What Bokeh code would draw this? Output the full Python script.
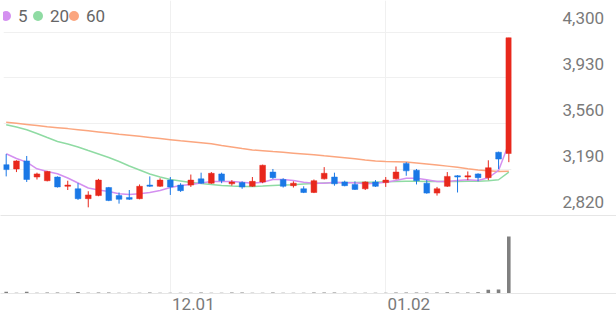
from bokeh.plotting import figure
from bokeh.models import Range1d, LinearAxis, FixedTicker, Legend, LegendItem, NumeralTickFormatter, Grid
from bokeh.embed import file_html
from bokeh.resources import INLINE

# ---- data ----
opens = [3230, 3195, 3260, 3130, 3100, 3130, 3055, 3035, 2955, 2980,
         3045, 2980, 2965, 2955, 3065, 3055, 3105, 3065, 3065, 3115,
         3080, 3155, 3075, 3085, 3055, 3090, 3170, 3110, 3060, 3035,
         3005, 3115, 3130, 3090, 3070, 3035, 3090, 3085, 3115, 3240,
         3185, 3080, 3000, 3055, 3140, 3130, 3155, 3125, 3330, 3320]
highs = [3315, 3265, 3300, 3165, 3180, 3135, 3100, 3080, 3015, 3115,
         3050, 3005, 3025, 3070, 3135, 3120, 3130, 3080, 3150, 3165,
         3170, 3165, 3105, 3095, 3130, 3230, 3195, 3120, 3095, 3055,
         3110, 3210, 3165, 3100, 3095, 3095, 3105, 3130, 3215, 3250,
         3195, 3105, 3050, 3170, 3145, 3175, 3160, 3265, 3335, 4255]
lows = [3135, 3170, 3090, 3110, 3095, 3045, 3025, 2945, 2885, 2975,
        2935, 2915, 2945, 2950, 3050, 3050, 2985, 3010, 3050, 3075,
        3075, 3080, 3060, 3035, 3050, 3080, 3115, 3045, 3045, 3000,
        3000, 3110, 3060, 3055, 3025, 3025, 3050, 3050, 3110, 3140,
        3070, 2995, 2980, 3050, 3005, 3105, 3095, 3105, 3195, 3250]
closes = [3190, 3260, 3110, 3155, 3175, 3050, 3065, 2955, 2985, 3105,
          2940, 2950, 2950, 3055, 3055, 3105, 3050, 3020, 3105, 3080,
          3160, 3100, 3090, 3050, 3095, 3225, 3125, 3055, 3080, 3005,
          3100, 3160, 3075, 3060, 3030, 3090, 3055, 3105, 3170, 3180,
          3100, 3000, 3035, 3135, 3130, 3140, 3125, 3205, 3275, 4255]
ma5 = [3318, 3280, 3250, 3196, 3175, 3156, 3122, 3082, 3041, 3025,
       3013, 2994, 2989, 2994, 3005, 3021, 3045, 3062, 3070, 3082,
       3094, 3094, 3094, 3088, 3080, 3088, 3110, 3110, 3102, 3088,
       3080, 3080, 3088, 3083, 3083, 3075, 3080, 3088, 3102, 3120,
       3120, 3108, 3094, 3094, 3102, 3108, 3102, 3124, 3183, 3400]
ma20 = [3552, 3534, 3512, 3482, 3449, 3417, 3397, 3373, 3344, 3316,
        3288, 3255, 3219, 3187, 3154, 3130, 3110, 3098, 3086, 3078,
        3070, 3062, 3057, 3053, 3053, 3057, 3062, 3066, 3068, 3074,
        3078, 3082, 3083, 3086, 3086, 3087, 3088, 3091, 3094, 3096,
        3096, 3094, 3094, 3094, 3094, 3095, 3096, 3100, 3108, 3169]
ma60 = [3573, 3564, 3555, 3546, 3537, 3529, 3521, 3512, 3503, 3494,
        3485, 3476, 3468, 3459, 3450, 3441, 3432, 3423, 3415, 3407,
        3398, 3385, 3373, 3360, 3349, 3343, 3336, 3330, 3323, 3316,
        3309, 3301, 3294, 3286, 3278, 3268, 3259, 3256, 3254, 3251,
        3244, 3236, 3228, 3218, 3208, 3197, 3187, 3180, 3175, 3177]
volumes = [320000, 150000, 330000, 160000, 170000, 190000, 150000, 310000, 160000, 170000,
           180000, 150000, 160000, 150000, 170000, 160000, 140000, 150000, 160000, 170000,
           150000, 150000, 180000, 170000, 160000, 150000, 190000, 160000, 150000, 150000,
           170000, 200000, 170000, 160000, 150000, 160000, 160000, 150000, 170000, 190000,
           200000, 180000, 170000, 260000, 190000, 170000, 230000, 700000, 780000, 10960000]
date_tick_idx = [16, 37]
date_tick_labels = ["12.01", "01.02"]
price_ticks = [2820, 3190, 3560, 3930, 4300]
ma_labels = ["5", "20", "60"]

# ---- styles ----
UP = "#e8281c"
DOWN = "#1a78e6"
C5, C20, C60 = "#d490f0", "#8fdba3", "#fba67f"
GRID = "#f0f0f0"
SEP = "#e6e6e6"
TXT = "#7a7a7a"
FONT = "Roboto"

idx = list(range(len(closes)))
colors = [UP if c >= o else DOWN for o, c in zip(opens, closes)]
tops = [max(o, c) for o, c in zip(opens, closes)]
bottoms = [min(o, c) for o, c in zip(opens, closes)]

# ---- price panel ----
PX0, PX1 = -0.263, 49.26
PY0, PY1 = 2819.1, 4556.1
p = figure(width=616, height=215, x_range=Range1d(PX0, PX1), y_range=Range1d(PY0, PY1),
           output_backend="svg", toolbar_location=None,
           x_axis_location=None, y_axis_location=None,
           min_border_left=3, min_border_right=105, min_border_top=0, min_border_bottom=0)
p.outline_line_color = None
p.grid.grid_line_color = None
p.add_layout(Grid(dimension=1, ticker=FixedTicker(ticks=price_ticks), grid_line_color=GRID))
p.add_layout(Grid(dimension=0, ticker=FixedTicker(ticks=date_tick_idx), grid_line_color=GRID))

label_shift = 111  # labels sit above their grid lines
p.extra_y_ranges = {"lab": Range1d(PY0 - label_shift, PY1 - label_shift)}
yax = LinearAxis(y_range_name="lab", ticker=FixedTicker(ticks=price_ticks),
                 formatter=NumeralTickFormatter(format="0,0"))
yax.axis_line_color = None
yax.major_tick_line_color = None
yax.minor_tick_line_color = None
yax.major_tick_out = 0
yax.major_tick_in = 0
yax.major_label_standoff = 51
yax.major_label_text_font = FONT
yax.major_label_text_font_size = "17px"
yax.major_label_text_color = TXT
p.add_layout(yax, "right")

p.line(idx, ma60, line_color=C60, line_width=1.5)
p.line(idx, ma20, line_color=C20, line_width=1.5)
p.line(idx, ma5, line_color=C5, line_width=1.5)

p.segment(x0=idx, y0=highs, x1=idx, y1=lows, line_color=colors, line_width=1)
p.vbar(x=idx, width=0.56, top=tops, bottom=bottoms, fill_color=colors, line_color=colors, line_width=0.5)

# legend markers: zero-size scatter on the MA series (only the legend shows the dot)
leg_renderers = [p.scatter(idx, s, size=0, marker="circle", fill_color=c, line_color=None)
                 for s, c in ((ma5, C5), (ma20, C20), (ma60, C60))]
leg_x = [-10, 22, 58]  # screen offsets of each legend entry
for lab, r, lx in zip(ma_labels, leg_renderers, leg_x):
    lg = Legend(items=[LegendItem(label=lab, renderers=[r])],
                location=(lx, 187), orientation="horizontal",
                glyph_width=25, glyph_height=25, label_standoff=-4, label_width=0, spacing=0,
                padding=0, margin=0, background_fill_alpha=0, border_line_color=None,
                label_text_font=FONT, label_text_font_size="17px", label_text_color="#666666",
                label_height=25)
    p.add_layout(lg)

# ---- volume panel ----
VX0, VX1 = -0.556, 59.50
v = figure(width=616, height=106, x_range=Range1d(VX0, VX1), y_range=Range1d(0, 15000000),
           output_backend="svg", toolbar_location=None,
           x_axis_location=None, y_axis_location=None,
           min_border_left=0, min_border_right=0, min_border_top=0, min_border_bottom=28)
v.outline_line_color = None
v.grid.grid_line_color = None
v.add_layout(Grid(dimension=0, ticker=FixedTicker(ticks=date_tick_idx), grid_line_color=GRID))

top_ax = LinearAxis(ticker=FixedTicker(ticks=[]))
top_ax.axis_line_color = SEP
top_ax.major_tick_out = 0
top_ax.major_tick_in = 0
top_ax.minor_tick_line_color = None
top_ax.major_label_text_font_size = "0px"
v.add_layout(top_ax, "above")

lab_shift = 2.25  # date labels start at their grid lines
v.extra_x_ranges = {"lab": Range1d(VX0 - lab_shift, VX1 - lab_shift)}
xax = LinearAxis(x_range_name="lab", ticker=FixedTicker(ticks=date_tick_idx),
                 major_label_overrides=dict(zip(date_tick_idx, date_tick_labels)))
xax.axis_line_color = SEP
xax.major_tick_line_color = None
xax.minor_tick_line_color = None
xax.major_tick_out = 0
xax.major_tick_in = 0
xax.major_label_standoff = 4
xax.major_label_text_font = FONT
xax.major_label_text_font_size = "17px"
xax.major_label_text_color = TXT
v.add_layout(xax, "below")

v.vbar(x=idx, width=0.35, top=volumes, bottom=0, fill_color="#808080", line_color=None)

open("out.html", "w").write(file_html([p, v], INLINE))
